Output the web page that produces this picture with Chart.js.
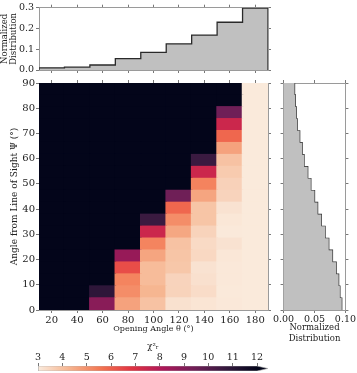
<!DOCTYPE html>
<html>
<head>
<meta charset="utf-8">
<script src="https://cdn.jsdelivr.net/npm/chart.js@4.4.1/dist/chart.umd.min.js"></script>
<style>
  html, body { margin: 0; padding: 0; background: #fff; }
  #wrap { position: relative; width: 357px; height: 373px; overflow: hidden; }
  canvas { position: absolute; }
</style>
</head>
<body>
<div id="wrap">
  <canvas id="topHist" width="272" height="82" style="left:0px;top:0px"></canvas>
  <canvas id="heat" width="272" height="260" style="left:0px;top:76px"></canvas>
  <canvas id="sideHist" width="85" height="270" style="left:272px;top:76px"></canvas>
  <canvas id="cbar" width="275" height="37" style="left:0px;top:336px"></canvas>
</div>
<script>
// ---- data ----
const thetaEdges = [10, 30, 50, 70, 90, 110, 130, 150, 170, 190];
const thetaCenters = [20, 40, 60, 80, 100, 120, 140, 160, 180];
const psiEdges = [0, 4.737, 9.474, 14.211, 18.947, 23.684, 28.421, 33.158, 37.895, 42.632,
                  47.368, 52.105, 56.842, 61.579, 66.316, 71.053, 75.789, 80.526, 85.263, 90];

const thetaTicks = [20, 40, 60, 80, 100, 120, 140, 160, 180];
const psiTicks = [0, 10, 20, 30, 40, 50, 60, 70, 80, 90];
const topHistTicks = [0, 0.1, 0.2, 0.3];
const sideHistTicks = [0, 0.05, 0.1];
const cbarTicks = [3, 4, 5, 6, 7, 8, 9, 10, 11, 12];
const cbarRange = [3, 12];

// marginal distributions
const thetaHist = [0.0106, 0.0136, 0.024, 0.0545, 0.085, 0.126, 0.168, 0.230, 0.298];
// psi bins from 0 deg (bottom) up to 90 deg (top)
const psiHist = [0.094, 0.091, 0.089, 0.085, 0.079, 0.073, 0.067, 0.061, 0.055, 0.050,
                 0.044, 0.039, 0.033, 0.030, 0.026, 0.022, 0.0205, 0.019, 0.0177];

// reduced chi^2 per opening-angle column, psi bins bottom -> top (values > 12 saturate)
const chi2Theta20  = [15, 15, 15, 15, 15, 15, 15, 15, 15, 15, 15, 15, 15, 15, 15, 15, 15, 15, 15];
const chi2Theta40  = [15, 15, 15, 15, 15, 15, 15, 15, 15, 15, 15, 15, 15, 15, 15, 15, 15, 15, 15];
const chi2Theta60  = [8.9, 10.9, 15, 15, 15, 15, 15, 15, 15, 15, 15, 15, 15, 15, 15, 15, 15, 15, 15];
const chi2Theta80  = [4.65, 5.1, 5.28, 6.35, 8.6, 15, 15, 15, 15, 15, 15, 15, 15, 15, 15, 15, 15, 15, 15];
const chi2Theta100 = [3.95, 4.25, 4.1, 4.1, 4.6, 5.28, 7.4, 10.6, 15, 15, 15, 15, 15, 15, 15, 15, 15, 15, 15];
const chi2Theta120 = [3.23, 3.56, 3.55, 3.85, 3.9, 3.95, 4.55, 5.1, 5.85, 9.45, 15, 15, 15, 15, 15, 15, 15, 15, 15];
const chi2Theta140 = [3.15, 3.35, 3.25, 3.2, 3.45, 3.4, 3.56, 3.9, 3.9, 4.6, 5.3, 7.4, 10.6, 15, 15, 15, 15, 15, 15];
const chi2Theta160 = [3.07, 3.05, 3.07, 3.07, 3.1, 3.2, 3.05, 3.1, 3.2, 3.55, 3.6, 3.75, 3.95, 4.65, 5.85, 7.4, 9.45, 15, 15];
const chi2Theta180 = [3.03, 3.03, 3.03, 3.03, 3.03, 3.03, 3.03, 3.03, 3.03, 3.03, 3.03, 3.03, 3.03, 3.03, 3.03, 3.03, 3.03, 3.03, 3.03];
const chi2Grid = [chi2Theta20, chi2Theta40, chi2Theta60, chi2Theta80, chi2Theta100,
                  chi2Theta120, chi2Theta140, chi2Theta160, chi2Theta180];

// ---- style ----
const rocketStops = ['#03051a', '#35193e', '#701f57', '#ad1759', '#e13342', '#f37651', '#f6b48f', '#faebdd'];
const histFill = '#c0c0c0';
const histLine = '#2a2a2a';
const frameColor = '#9a9a9a';
const tickColor = '#555555';
const serif = "'DejaVu Serif', serif";

Chart.defaults.font.family = serif;
Chart.defaults.color = '#222';
Chart.defaults.animation = false;
Chart.defaults.responsive = false;
Chart.defaults.plugins.legend.display = false;
Chart.defaults.plugins.tooltip.enabled = false;

function hexToRgb(h) {
  return [parseInt(h.slice(1, 3), 16), parseInt(h.slice(3, 5), 16), parseInt(h.slice(5, 7), 16)];
}

// rocket_r: light at the low end, dark at the high end
function chi2Color(v) {
  const t = Math.min(Math.max((v - cbarRange[0]) / (cbarRange[1] - cbarRange[0]), 0), 1);
  const s = (1 - t) * (rocketStops.length - 1);
  const i = Math.min(Math.floor(s), rocketStops.length - 2);
  const f = s - i;
  const a = hexToRgb(rocketStops[i]);
  const b = hexToRgb(rocketStops[i + 1]);
  const c = a.map((x, k) => Math.round(x + (b[k] - x) * f));
  return `rgb(${c[0]},${c[1]},${c[2]})`;
}

// an axis that only shows outward ticks + frame, with a forced box size
function axis(pos, tickVals, size, extra) {
  const base = {
    position: pos,
    grid: { drawOnChartArea: false, drawTicks: true, tickLength: 3, tickColor: tickColor, tickWidth: 0.8 },
    border: { display: true, color: frameColor, width: 1 },
    ticks: { display: false },
    z: 1,
    afterFit: s => {
      if (pos === 'top' || pos === 'bottom') s.height = size; else s.width = size;
    }
  };
  if (tickVals) base.afterBuildTicks = ax => { ax.ticks = tickVals.map(v => ({ value: v })); };
  return Object.assign(base, extra || {});
}

// ---- top: opening-angle distribution ----
const topPts = [{ x: thetaEdges[0], y: 0 }];
thetaHist.forEach((v, i) => topPts.push({ x: thetaEdges[i], y: v }));
topPts.push({ x: thetaEdges[thetaEdges.length - 1], y: thetaHist[thetaHist.length - 1] });
topPts.push({ x: thetaEdges[thetaEdges.length - 1], y: 0 });

new Chart(document.getElementById('topHist'), {
  type: 'scatter',
  data: {
    datasets: [{
      data: topPts,
      showLine: true,
      stepped: 'before',
      fill: 'origin',
      backgroundColor: histFill,
      borderColor: histLine,
      borderWidth: 1.3,
      pointRadius: 0
    }]
  },
  options: {
    layout: { padding: 0 },
    scales: {
      x: axis('bottom', thetaTicks, 12, { type: 'linear', min: 10, max: 190 }),
      x2: axis('top', thetaTicks, 4, { type: 'linear', min: 10, max: 190 }),
      y: axis('left', topHistTicks, 39, {
        type: 'linear', min: 0, max: 0.3,
        ticks: { display: true, padding: 2, font: { size: 9.5 }, callback: v => v.toFixed(1) },
        title: { display: true, text: ['Normalized', 'Distribution'], font: { size: 8.5, lineHeight: 1.05 }, padding: { top: 0.5, bottom: 0 } }
      }),
      y2: axis('right', topHistTicks, 4, { type: 'linear', min: 0, max: 0.3 })
    }
  }
});

// ---- main: chi^2 grid as floating bars ----
const heatSets = [];
for (let r = 0; r < psiEdges.length - 1; r++) {
  heatSets.push({
    data: thetaCenters.map(() => [psiEdges[r], psiEdges[r + 1]]),
    backgroundColor: chi2Grid.map(col => chi2Color(col[r])),
    borderWidth: 0,
    inflateAmount: 0.8,
    barPercentage: 1,
    categoryPercentage: 1,
    grouped: false
  });
}

new Chart(document.getElementById('heat'), {
  type: 'bar',
  data: { labels: thetaCenters, datasets: heatSets },
  options: {
    layout: { padding: 0 },
    scales: {
      x: axis('bottom', null, 26, {
        type: 'category', offset: true,
        grid: { offset: false, drawOnChartArea: false, tickLength: 3, tickColor: tickColor, tickWidth: 0.8 },
        ticks: { display: true, padding: 1, font: { size: 10 }, maxRotation: 0, autoSkip: false },
        title: { display: true, text: 'Opening Angle θ (°)', font: { size: 8 }, padding: { top: 0, bottom: 2 } }
      }),
      x2: axis('top', null, 7, {
        type: 'category', labels: thetaCenters, offset: true,
        grid: { offset: false, drawOnChartArea: false, tickLength: 3, tickColor: tickColor, tickWidth: 0.8 }
      }),
      y: axis('left', psiTicks, 39, {
        type: 'linear', min: 0, max: 90,
        ticks: { display: true, padding: 1, font: { size: 10 } },
        title: { display: true, text: 'Angle from Line of Sight Ψ (°)', font: { size: 9 }, padding: { top: 9.6, bottom: 0 } }
      }),
      y2: axis('right', psiTicks, 4, { type: 'linear', min: 0, max: 90 })
    }
  }
});

// ---- right: line-of-sight distribution ----
const sideShape = [{ x: 0, y: psiEdges[0] }];
const sideStep = [];
psiHist.forEach((v, r) => {
  sideShape.push({ x: v, y: psiEdges[r] }, { x: v, y: psiEdges[r + 1] });
  sideStep.push({ x: v, y: psiEdges[r] }, { x: v, y: psiEdges[r + 1] });
});
sideShape.push({ x: 0, y: psiEdges[psiEdges.length - 1] });

new Chart(document.getElementById('sideHist'), {
  type: 'scatter',
  data: {
    datasets: [
      { data: sideShape, showLine: true, fill: 'shape', backgroundColor: histFill, borderWidth: 0, pointRadius: 0 },
      { data: sideStep, showLine: true, fill: false, borderColor: histLine, borderWidth: 1.3, pointRadius: 0 }
    ]
  },
  options: {
    layout: { padding: 0 },
    scales: {
      x: axis('bottom', sideHistTicks, 36, {
        type: 'linear', min: 0, max: 0.1,
        ticks: { display: true, padding: 1, font: { size: 9.5 }, maxRotation: 0, callback: v => v.toFixed(2) },
        title: { display: true, text: ['Normalized', 'Distribution'], font: { size: 8.5, lineHeight: 1.25 }, padding: { top: 0, bottom: 2 } }
      }),
      x2: axis('top', sideHistTicks, 7, { type: 'linear', min: 0, max: 0.1 }),
      y: axis('left', psiTicks, 9, { type: 'linear', min: 0, max: 90 }),
      y2: axis('right', psiTicks, 10, { type: 'linear', min: 0, max: 90 })
    }
  }
});

// ---- colour bar with "max" extension ----
const cbarExtendFrac = 0.05;
const cbarTip = cbarRange[1] + cbarExtendFrac * (cbarRange[1] - cbarRange[0]);
const cbarShape = [
  { x: cbarRange[0], y: 0 }, { x: cbarRange[1], y: 0 }, { x: cbarTip, y: 0.5 },
  { x: cbarRange[1], y: 1 }, { x: cbarRange[0], y: 1 }, { x: cbarRange[0], y: 0 }
];

new Chart(document.getElementById('cbar'), {
  type: 'scatter',
  data: {
    datasets: [{
      data: cbarShape,
      showLine: true,
      fill: 'shape',
      borderColor: '#b0b0b0',
      borderWidth: 0.6,
      pointRadius: 0,
      backgroundColor: c => {
        const ch = c.chart;
        if (!ch.chartArea) return rocketStops[3];
        const xs = ch.scales.x;
        const g = ch.ctx.createLinearGradient(xs.getPixelForValue(cbarRange[0]), 0, xs.getPixelForValue(cbarRange[1]), 0);
        for (let k = 0; k <= 40; k++) {
          const v = cbarRange[0] + (cbarRange[1] - cbarRange[0]) * k / 40;
          g.addColorStop(k / 40, chi2Color(v));
        }
        return g;
      }
    }]
  },
  options: {
    layout: { padding: { left: 38, right: 7, top: 0, bottom: 2 } },
    scales: {
      x: axis('top', cbarTicks, 30, {
        type: 'linear', min: cbarRange[0], max: cbarTip,
        border: { display: false },
        ticks: { display: true, padding: 0, font: { size: 9.5 }, maxRotation: 0 },
        title: { display: true, text: 'χ²ᵣ', font: { size: 8.5 }, padding: { top: 6, bottom: 0 } }
      }),
      y: { display: false, min: 0, max: 1 }
    }
  }
});
</script>
</body>
</html>
